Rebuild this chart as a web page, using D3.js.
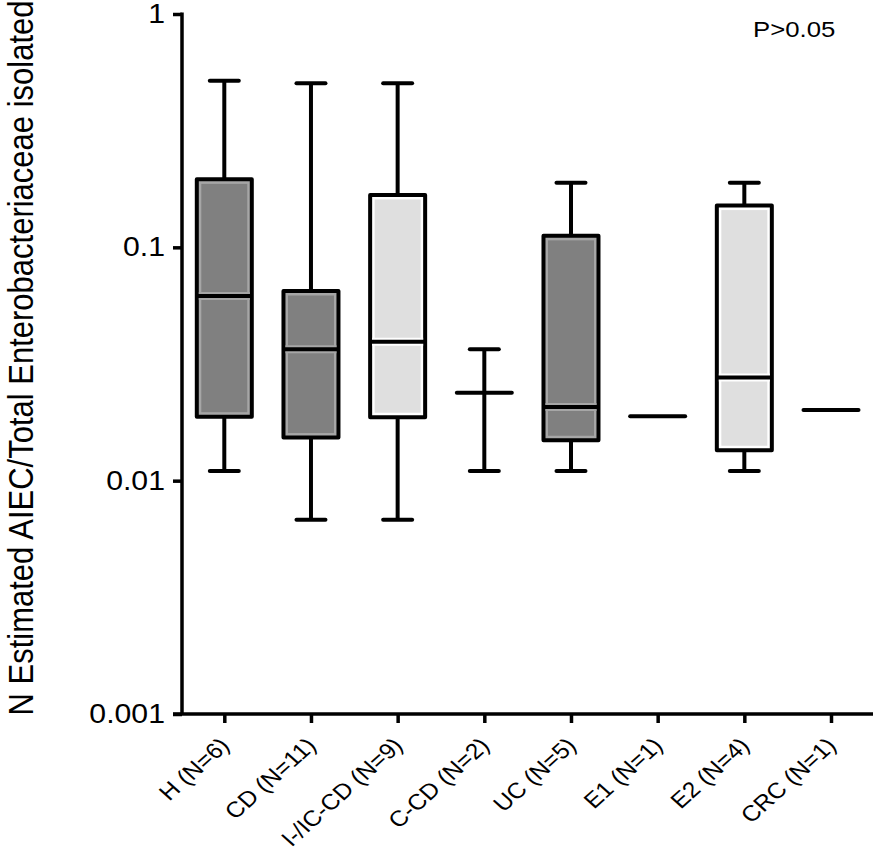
<!DOCTYPE html>
<html>
<head>
<meta charset="utf-8">
<script src="https://cdn.jsdelivr.net/npm/d3@7"></script>
<style>
  html, body { margin: 0; padding: 0; background: #ffffff; }
  svg { display: block; }
  text { font-family: "Liberation Sans", Arial, Helvetica, sans-serif; fill: #000; }
</style>
</head>
<body>
<div id="chart"></div>
<script>
// ---- data ----
const categories = ["H (N=6)", "CD (N=11)", "I-/IC-CD (N=9)", "C-CD (N=2)", "UC (N=5)", "E1 (N=1)", "E2 (N=4)", "CRC (N=1)"];
const mins    = [0.011,  0.0068, 0.0068, 0.011,  0.011,  0.0189, 0.011,  0.0201];
const q1s     = [0.0188, 0.0153, 0.0187, 0.0238, 0.0149, 0.0189, 0.0135, 0.0201];
const medians = [0.0619, 0.0366, 0.0394, 0.0238, 0.0207, 0.0189, 0.0277, 0.0201];
const q3s     = [0.1956, 0.065,  0.1676, 0.0238, 0.112,  0.0189, 0.151,  0.0201];
const maxs    = [0.518,  0.505,  0.505,  0.0366, 0.189,  0.0189, 0.189,  0.0201];
const yTicks = [0.001, 0.01, 0.1, 1];
const yTickLabels = ["0.001", "0.01", "0.1", "1"];
const yTitle = "N Estimated AIEC/Total Enterobacteriaceae isolated";
const pText = "P>0.05";

// ---- layout ----
const W = 886, H = 860;
const SX = 1.12; // horizontal stretch of the reference text
const x0 = 182, yTop = 14, yBot = 714;
const boxW = 55, capW = 29, lw = 4;

const svg = d3.select("#chart").append("svg").attr("width", W).attr("height", H);

const y = d3.scaleLog().domain([0.001, 1]).range([yBot, yTop]);
const x = d3.scalePoint().domain(categories).range([224.3, 831]);

const fill = d3.scaleOrdinal().domain(categories)
  .range(["#808080", "#808080", "#dfdfdf", "none", "#808080", "none", "#dfdfdf", "none"]);
const halo = d3.scaleOrdinal().domain(categories)
  .range(["#a6a6a6", "#a6a6a6", "#ffffff", "none", "#a6a6a6", "none", "#ffffff", "none"]);

const data = categories.map((c, i) => ({
  c, min: mins[i], q1: q1s[i], med: medians[i], q3: q3s[i], max: maxs[i]
}));

// ---- axes ----
const yAxis = d3.axisLeft(y).tickValues(yTicks)
  .tickFormat((d, i) => yTickLabels[i]).tickSize(9).tickPadding(8);
const gy = svg.append("g").attr("transform", `translate(${x0},0)`).call(yAxis);
gy.select(".domain").attr("d", `M0,${yTop - 1.5}V${yBot}`).attr("stroke", "#000").attr("stroke-width", 3.5);
gy.selectAll(".tick line").attr("stroke", "#000").attr("stroke-width", 3.5);
gy.selectAll(".tick text")
  .attr("font-size", 27)
  .attr("x", -17 / SX)
  .attr("transform", `scale(${SX},1)`)
  .style("font-family", '"Liberation Sans", Arial, sans-serif');

const xAxis = d3.axisBottom(x).tickSize(9).tickSizeOuter(0);
const gx = svg.append("g").attr("transform", `translate(0,${yBot})`).call(xAxis);
gx.select(".domain").attr("d", `M${x0 - 9},0H873`).attr("stroke", "#000").attr("stroke-width", 3.5);
gx.selectAll(".tick line").attr("stroke", "#000").attr("stroke-width", 3.5);
gx.selectAll(".tick text")
  .attr("font-size", 22)
  .attr("x", 0).attr("y", 0).attr("dy", 0)
  .attr("text-anchor", "end")
  .attr("transform", `translate(6,33) scale(${SX},1) rotate(-45)`)
  .style("font-family", '"Liberation Sans", Arial, sans-serif');

// ---- boxes ----
const g = svg.append("g");
const grp = g.selectAll("g.box").data(data).join("g").attr("class", "box");

// whiskers
grp.filter(d => d.max > d.q3).append("line")
  .attr("x1", d => x(d.c)).attr("x2", d => x(d.c))
  .attr("y1", d => y(d.q3)).attr("y2", d => y(d.max))
  .attr("stroke", "#000").attr("stroke-width", lw);
grp.filter(d => d.min < d.q1).append("line")
  .attr("x1", d => x(d.c)).attr("x2", d => x(d.c))
  .attr("y1", d => y(d.q1)).attr("y2", d => y(d.min))
  .attr("stroke", "#000").attr("stroke-width", lw);
grp.filter(d => d.max > d.q3).append("line")
  .attr("x1", d => x(d.c) - capW / 2).attr("x2", d => x(d.c) + capW / 2)
  .attr("y1", d => y(d.max)).attr("y2", d => y(d.max))
  .attr("stroke", "#000").attr("stroke-width", lw).attr("stroke-linecap", "round");
grp.filter(d => d.min < d.q1).append("line")
  .attr("x1", d => x(d.c) - capW / 2).attr("x2", d => x(d.c) + capW / 2)
  .attr("y1", d => y(d.min)).attr("y2", d => y(d.min))
  .attr("stroke", "#000").attr("stroke-width", lw).attr("stroke-linecap", "round");

// box body
const withBox = grp.filter(d => d.q3 > d.q1);
withBox.append("rect")
  .attr("x", d => x(d.c) - boxW / 2).attr("width", boxW)
  .attr("y", d => y(d.q3)).attr("height", d => y(d.q1) - y(d.q3))
  .attr("fill", d => halo(d.c)).attr("stroke", "#000").attr("stroke-width", lw)
  .attr("stroke-linejoin", "round");
withBox.append("rect")
  .attr("x", d => x(d.c) - boxW / 2 + 4.5).attr("width", boxW - 9)
  .attr("y", d => y(d.q3) + 4.5).attr("height", d => y(d.q1) - y(d.q3) - 9)
  .attr("fill", d => fill(d.c));
// median halo + line
withBox.append("line")
  .attr("x1", d => x(d.c) - boxW / 2 + 2).attr("x2", d => x(d.c) + boxW / 2 - 2)
  .attr("y1", d => y(d.med)).attr("y2", d => y(d.med))
  .attr("stroke", d => halo(d.c)).attr("stroke-width", lw + 4);
withBox.append("line")
  .attr("x1", d => x(d.c) - boxW / 2).attr("x2", d => x(d.c) + boxW / 2)
  .attr("y1", d => y(d.med)).attr("y2", d => y(d.med))
  .attr("stroke", "#000").attr("stroke-width", lw);

// collapsed boxes (single line)
grp.filter(d => !(d.q3 > d.q1)).append("line")
  .attr("x1", d => x(d.c) - boxW / 2).attr("x2", d => x(d.c) + boxW / 2)
  .attr("y1", d => y(d.med)).attr("y2", d => y(d.med))
  .attr("stroke", "#000").attr("stroke-width", lw).attr("stroke-linecap", "round");

// ---- texts ----
svg.append("text")
  .attr("transform", `translate(33,358) scale(${SX},1) rotate(-90)`)
  .attr("text-anchor", "middle")
  .attr("font-size", 31)
  .text(yTitle);

svg.append("text")
  .attr("transform", `translate(753,37) scale(${SX},1)`)
  .attr("font-size", 23)
  .text(pText);
</script>
</body>
</html>
